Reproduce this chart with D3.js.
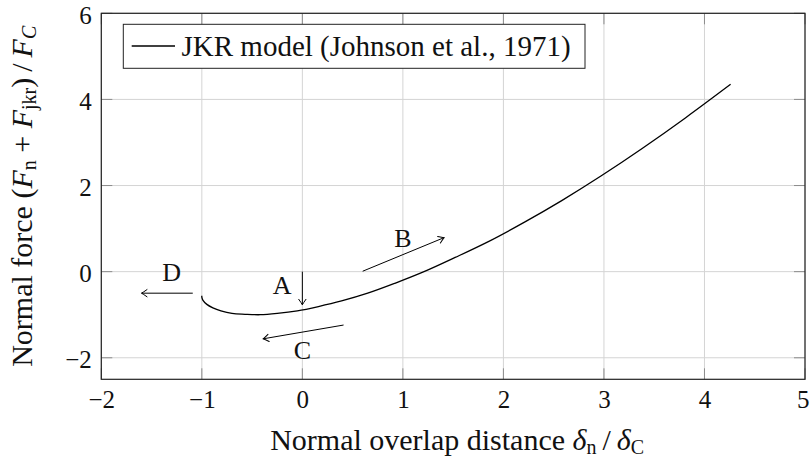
<!DOCTYPE html>
<html>
<head>
<meta charset="utf-8">
<script src="https://cdn.jsdelivr.net/npm/d3@7"></script>
<style>
  html, body { margin: 0; padding: 0; background: #fff; }
  svg { display: block; font-family: 'Liberation Serif', 'Times New Roman', serif; }
  svg text { font-family: 'Liberation Serif', 'Times New Roman', serif !important; fill: #111; }
</style>
</head>
<body>
<svg id="chart" width="810" height="459"></svg>
<script>
// ---- data ----
const xTickValues = [-2, -1, 0, 1, 2, 3, 4, 5];
const yTickValues = [-2, 0, 2, 4, 6];
const xDomain = [-2, 5];
const yDomain = [-2.5, 6];

// JKR curve: normalized overlap vs normalized force
const overlap = [-1.00, -1.00, -0.99, -0.95, -0.89, -0.81, -0.70, -0.57, -0.42, -0.25, -0.05, 0.16, 0.39, 0.65, 0.92, 1.21, 1.52, 1.86, 2.21, 2.58, 2.97, 3.38, 3.81, 4.26];
const force   = [-0.56, -0.59, -0.66, -0.76, -0.84, -0.91, -0.97, -0.99, -1.00, -0.97, -0.91, -0.81, -0.68, -0.50, -0.27, 0.00, 0.33, 0.71, 1.15, 1.65, 2.22, 2.86, 3.57, 4.35];

const seriesName = "JKR model (Johnson et al., 1971)";

// annotation arrows (data coords)
const arrowNames = ["A", "B", "C", "D"];
const arrowStart = [[0, 0], [0.60, 0.01], [0.41, -1.24], [-1.09, -0.50]];
const arrowEnd   = [[0, -0.77], [1.41, 0.79], [-0.39, -1.56], [-1.60, -0.50]];
const labelPos   = [[-0.20, -0.32], [1.00, 0.77], [0.00, -1.83], [-1.30, 0.00]];

// ---- layout ----
const W = 810;
const svg = d3.select("#chart");
const L = 101.3, R = 805, T = 13.3, B = 379.3;
const x = d3.scaleLinear().domain(xDomain).range([L, R]);
const y = d3.scaleLinear().domain(yDomain).range([B, T]);

const fmt = v => (v < 0 ? "\u2212" + Math.abs(v) : String(v));

// grid
const grid = svg.append("g");
grid.selectAll("line.gx").data(xTickValues).join("line")
  .attr("x1", d => x(d)).attr("x2", d => x(d)).attr("y1", T).attr("y2", B)
  .attr("stroke", "#d4d4d4").attr("stroke-width", 1);
grid.selectAll("line.gy").data(yTickValues).join("line")
  .attr("y1", d => y(d)).attr("y2", d => y(d)).attr("x1", L).attr("x2", R)
  .attr("stroke", "#d4d4d4").attr("stroke-width", 1);

// inward ticks on all four sides
const tickLen = 11;
const ticks = svg.append("g").attr("stroke", "#8c8c8c").attr("stroke-width", 1);
xTickValues.forEach(v => {
  ticks.append("line").attr("x1", x(v)).attr("x2", x(v)).attr("y1", B).attr("y2", B - tickLen);
  ticks.append("line").attr("x1", x(v)).attr("x2", x(v)).attr("y1", T).attr("y2", T + tickLen);
});
yTickValues.forEach(v => {
  ticks.append("line").attr("y1", y(v)).attr("y2", y(v)).attr("x1", L).attr("x2", L + tickLen);
  ticks.append("line").attr("y1", y(v)).attr("y2", y(v)).attr("x1", R).attr("x2", R - tickLen);
});

// axes via d3 (labels only; frame drawn separately)
const xAxis = d3.axisBottom(x).tickValues(xTickValues).tickFormat(fmt).tickSize(0).tickPadding(0);
const gx = svg.append("g").attr("transform", `translate(0,${B})`).call(xAxis)
  .attr("font-family", null).attr("font-size", null);
gx.select(".domain").remove();
gx.selectAll("text").attr("dy", null).attr("y", 29).style("font-size", "25px").attr("fill", "#111");
// keep the last label (at the right edge) inside the picture
gx.selectAll(".tick text").each(function () {
  const bb = this.getBBox();
  const tr = this.parentNode.getAttribute("transform");
  const tx = +tr.match(/translate\(([-\d.]+)/)[1];
  const over = tx + bb.x + bb.width - (W - 0.5);
  if (over > 0) d3.select(this).attr("x", -over);
});

const yAxis = d3.axisLeft(y).tickValues(yTickValues).tickFormat(fmt).tickSize(0).tickPadding(0);
const gy = svg.append("g").attr("transform", `translate(${L},0)`).call(yAxis)
  .attr("font-family", null).attr("font-size", null);
gy.select(".domain").remove();
gy.selectAll("text").attr("dy", null).attr("x", -9.5).attr("y", 10).style("font-size", "25px").attr("fill", "#111");

// frame
svg.append("rect").attr("x", L).attr("y", T).attr("width", R - L).attr("height", B - T)
  .attr("fill", "none").attr("stroke", "#222").attr("stroke-width", 1.2);

// curve
const pts = overlap.map((d, i) => [d, force[i]]);
const line = d3.line().x(d => x(d[0])).y(d => y(d[1])).curve(d3.curveCatmullRom.alpha(0.5));
svg.append("path").datum(pts).attr("d", line)
  .attr("fill", "none").attr("stroke", "#000").attr("stroke-width", 1.3);

// arrow marker
const defs = svg.append("defs");
defs.append("marker").attr("id", "tip").attr("markerUnits", "userSpaceOnUse")
  .attr("viewBox", "-7 -5 8 10").attr("refX", 0).attr("refY", 0)
  .attr("markerWidth", 8).attr("markerHeight", 10).attr("orient", "auto")
  .append("path").attr("d", "M-5.5,-3.6 Q-1.6,-0.8 0,0 Q-1.6,0.8 -5.5,3.6")
  .attr("fill", "none").attr("stroke", "#000").attr("stroke-width", 1).attr("stroke-linecap", "round");

arrowNames.forEach((n, i) => {
  svg.append("line")
    .attr("x1", x(arrowStart[i][0])).attr("y1", y(arrowStart[i][1]))
    .attr("x2", x(arrowEnd[i][0])).attr("y2", y(arrowEnd[i][1]))
    .attr("stroke", "#000").attr("stroke-width", 1).attr("marker-end", "url(#tip)");
  svg.append("text").attr("x", x(labelPos[i][0])).attr("y", y(labelPos[i][1]) + 9)
    .attr("text-anchor", "middle")
    .style("font-size", "26px").text(n);
});

// legend
const lg = svg.append("g");
lg.append("rect").attr("x", 123.3).attr("y", 24.3).attr("width", 461.7).attr("height", 44)
  .attr("fill", "#fff").attr("stroke", "#222").attr("stroke-width", 1);
lg.append("line").attr("x1", 131.7).attr("x2", 175).attr("y1", 46).attr("y2", 46)
  .attr("stroke", "#000").attr("stroke-width", 1.3);
lg.append("text").attr("x", 181.5).attr("y", 56).style("font-size", "29px").text(seriesName);

// x label
const xl = svg.append("text").attr("x", (L + R) / 2 + 4).attr("y", 450)
  .attr("text-anchor", "middle").style("font-size", "30px");
xl.append("tspan").text("Normal overlap distance ");
xl.append("tspan").attr("font-style", "italic").text("\u03b4");
xl.append("tspan").style("font-size", "20px").attr("dy", 4).text("n");
xl.append("tspan").attr("dy", -4).text("\u2009/\u2009");
xl.append("tspan").attr("font-style", "italic").text("\u03b4");
xl.append("tspan").style("font-size", "20px").attr("dy", 4).text("C");

// y label
const yl = svg.append("text").attr("transform", `translate(32,${(T + B) / 2}) rotate(-90)`)
  .attr("text-anchor", "middle").style("font-size", "30px");
yl.append("tspan").text("Normal force (");
yl.append("tspan").attr("font-style", "italic").text("F");
yl.append("tspan").style("font-size", "20px").attr("dy", 4).text("n");
yl.append("tspan").attr("dy", -4).text(" + ");
yl.append("tspan").attr("font-style", "italic").text("F");
yl.append("tspan").style("font-size", "20px").attr("dy", 4).text("jkr");
yl.append("tspan").attr("dy", -4).text(")\u2009/\u2009");
yl.append("tspan").attr("font-style", "italic").text("F");
yl.append("tspan").style("font-size", "20px").attr("dy", 4).attr("font-style", "italic").text("C");
</script>
</body>
</html>
